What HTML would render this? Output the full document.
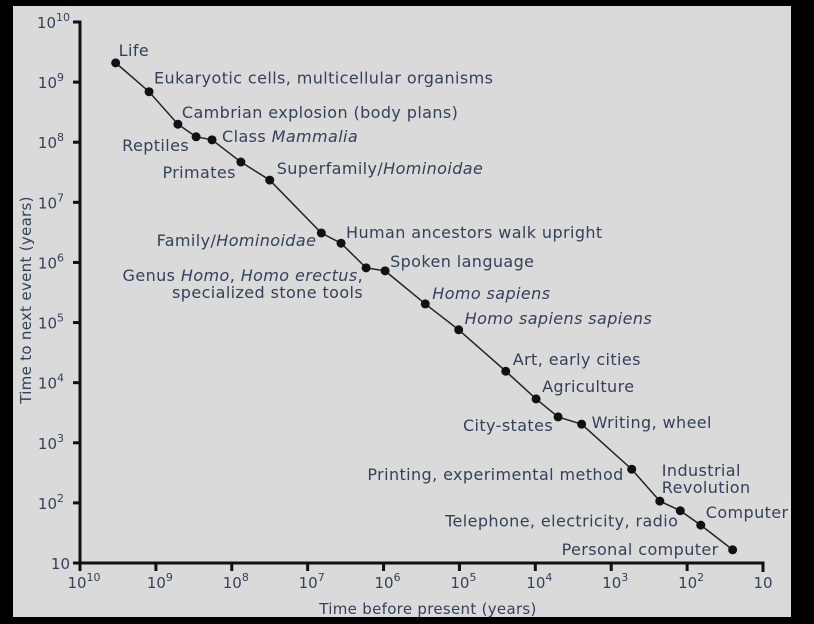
<!DOCTYPE html>
<html><head><meta charset="utf-8"><style>
html,body{margin:0;padding:0;background:#000;}
svg{display:block;}
text{font-family:"DejaVu Sans","Liberation Sans",sans-serif;fill:#33415a;}
</style></head><body>
<svg id="chart" width="814" height="624">
<rect x="13" y="6" width="778" height="611" fill="#dadada"/>
<g id="axes"></g><g id="series"></g><g id="labels"></g>
</svg>
<script>
const eventNames=[["Life"],["Eukaryotic cells, multicellular organisms"],["Cambrian explosion (body plans)"],["Reptiles"],["Class |Mammalia"],["Primates"],["Superfamily/|Hominoidae"],["Family/|Hominoidae"],["Human ancestors walk upright"],["Genus |Homo|, |Homo erectus|,","specialized stone tools"],["Spoken language"],["|Homo sapiens"],["|Homo sapiens sapiens"],["Art, early cities"],["Agriculture"],["City-states"],["Writing, wheel"],["Printing, experimental method"],["Industrial","Revolution"],["Telephone, electricity, radio"],["Computer"],["Personal computer"]];
const logTimeBefore=[9.53,9.09,8.71,8.47,8.26,7.88,7.50,6.82,6.56,6.23,5.98,5.45,5.01,4.39,3.99,3.70,3.39,2.73,2.36,2.09,1.82,1.40];
const logTimeToNext=[9.32,8.84,8.30,8.09,8.04,7.67,7.37,6.49,6.32,5.91,5.86,5.31,4.88,4.19,3.73,3.43,3.31,2.56,2.03,1.87,1.63,1.22];
const xTickExps=[10,9,8,7,6,5,4,3,2,1];
const yTickExps=[10,9,8,7,6,5,4,3,2,1];
// label placement (style): [dx, dy, anchor]
const labelPos=[[3,-7,"start"],[5,-8,"start"],[4,-6,"start"],[-7,14,"end"],[10,2,"start"],[-5,16,"end"],[7,-6,"start"],[-5,13,"end"],[5,-5,"start"],[-3,13,"end"],[5,-4,"start"],[7,-5,"start"],[6,-6,"start"],[7,-6,"start"],[6,-7,"start"],[-5,14,"end"],[10,4,"start"],[-8,11,"end"],[2,-25,"start"],[-2,16,"end"],[5,-7,"start"],[-14,5,"end"]];
const X0=80,X1=763,Y0=563,Y1=22;
const xs=e=>X0+(10-e)*(X1-X0)/9;
const ys=e=>Y0-(e-1)*(Y0-Y1)/9;
const NS="http://www.w3.org/2000/svg";
function mk(t,a,p){const el=document.createElementNS(NS,t);for(const k in a)el.setAttribute(k,a[k]);p.appendChild(el);return el;}
const ax=document.getElementById("axes"),se=document.getElementById("series"),lb=document.getElementById("labels");
let a=mk("path",{d:`M${X0-7} ${Y1}H${X0}V${Y0}H${X1}V${Y0+9}`,stroke:"#111",fill:"none","stroke-width":3},ax);


function pow(g,e,x,y,anchor){const t=mk("text",{x:x,y:y,"text-anchor":anchor,"font-size":15},g);
 if(e===1){t.textContent="10";}else{const s1=mk("tspan",{},t);s1.textContent="10";const s2=mk("tspan",{dy:-7,"font-size":11},t);s2.textContent=e;}
 return t;}
yTickExps.forEach(e=>{const y=ys(e);
 const t=mk("line",{x1:X0-7,x2:X0,y1:y,y2:y,stroke:"#111","stroke-width":3},ax);
 
 
 const l=pow(ax,e,e===1?70:e===10?70:64,y+6,"end");
 
 
});
xTickExps.forEach(e=>{const x=xs(e);
 const t=mk("line",{x1:x,x2:x,y1:Y0,y2:Y0+8,stroke:"#111","stroke-width":3},ax);
 
 
 const l=pow(ax,e,x+(e===1?0:4),588,"middle");
 
 
});
let xt=mk("text",{x:428,y:614,"text-anchor":"middle","font-size":15,"letter-spacing":0.3},ax);xt.textContent="Time before present (years)";


let yt=mk("text",{x:0,y:0,"text-anchor":"middle","font-size":15,"letter-spacing":0.3,transform:"translate(31,300) rotate(-90)"},ax);yt.textContent="Time to next event (years)";


const pts=logTimeBefore.map((v,i)=>[xs(v),ys(logTimeToNext[i])]);
let ln=mk("polyline",{points:pts.map(p=>p.join(",")).join(" "),fill:"none",stroke:"#222","stroke-width":1.5},se);


pts.forEach((p,i)=>{
 const c=mk("circle",{cx:p[0],cy:p[1],r:4.5,fill:"#111"},se);
 
 
 const [dx,dy,anc]=labelPos[i];
 eventNames[i].forEach((line,j)=>{
  const t=mk("text",{x:p[0]+dx,y:p[1]+dy+j*17,"text-anchor":anc,"font-size":16,"letter-spacing":0.4},lb);
  line.split("|").forEach((seg,k)=>{const s=mk("tspan",{},t);s.textContent=seg;if(k%2===1)s.setAttribute("font-style","italic");});
  
  
 });
});
</script>
</body></html>
